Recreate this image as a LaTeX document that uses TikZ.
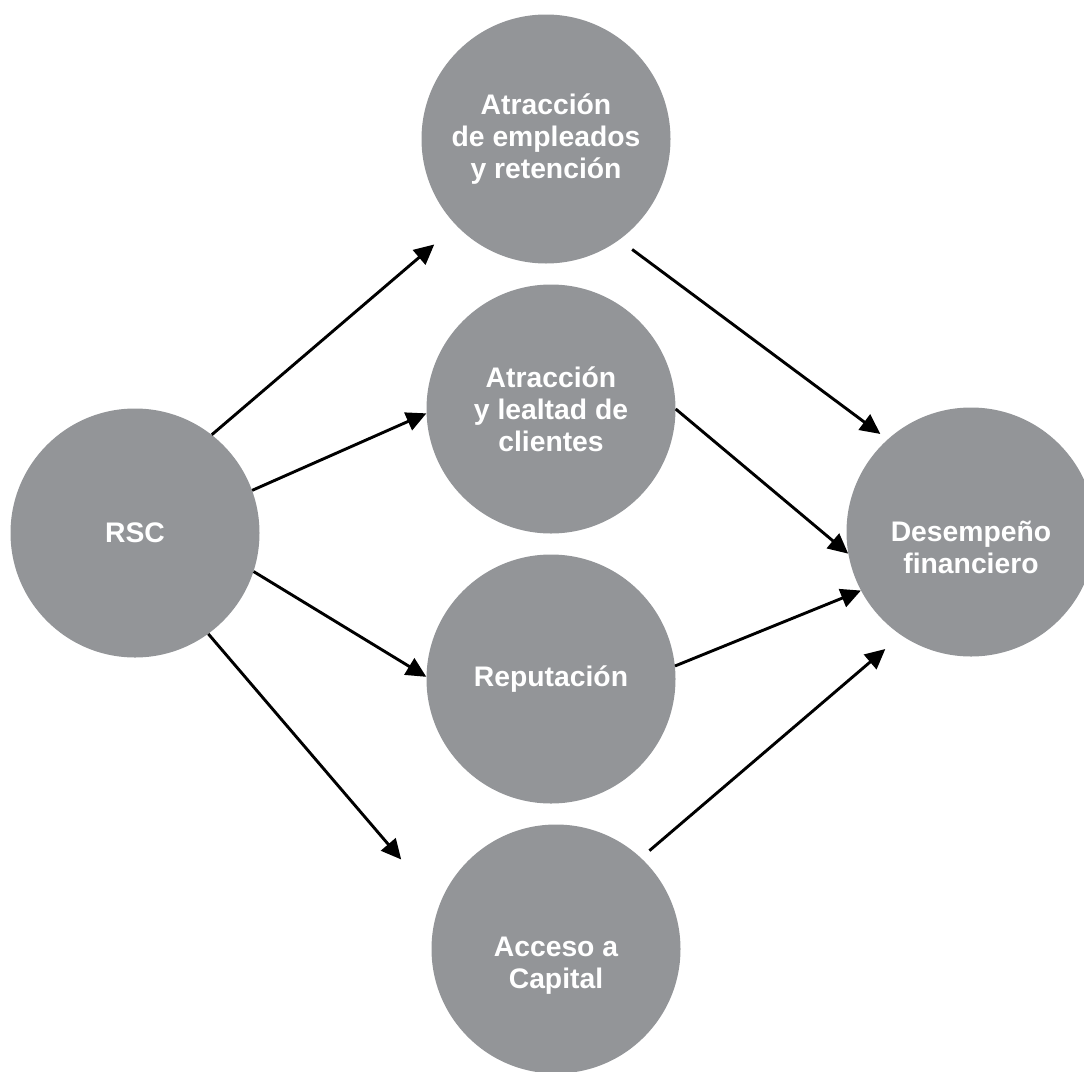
\documentclass[tikz,border=0pt]{standalone}
\usepackage{fontspec}
\setmainfont{Liberation Sans}
\usepackage{xcolor}
\usetikzlibrary{arrows.meta}
\definecolor{bubblegray}{HTML}{939598}

\begin{document}
\begin{tikzpicture}[x=1pt,y=-1pt,
	bubble/.style={circle,fill=bubblegray,minimum size=249pt,inner sep=0pt},
	bubbletext/.style={align=center,text=white,font=\bfseries\fontsize{28.3}{32}\selectfont},
	link/.style={line width=2.9pt,-{Triangle[length=20pt,width=19pt]}}]
	\useasboundingbox (0,0) rectangle (1084,1071);

	% circles
	\node[bubble,bubbletext] (rsc) at (135,533) {RSC};
	\node[bubble,bubbletext] (emp) at (546,139) {Atracción\\de empleados\\y retención};
	\node[bubble,bubbletext] (cli) at (551,409) {Atracción\\y lealtad de\\clientes};
	\node[bubble,bubbletext] (rep) at (551,679) {Reputación};
	\node[bubble,label={[bubbletext,yshift=-17pt]center:Acceso a\\Capital}] (cap) at (556,949) {};
	\node[bubble,label={[bubbletext,yshift=-15pt]center:Desempeño\\financiero}] (des) at (971,532) {};

	% arrows
	\draw[link,shorten >=29pt] (rsc.52) -- (emp.224);
	\draw[link] (rsc.20) -- (cli.182);
	\draw[link] (rsc.342) -- (rep.179);
	\draw[link,shorten >=59pt] (rsc.306) -- (cap.159);

	\draw[link,shorten <=16pt,shorten >=9pt] (emp.306) -- (des.132.5);
	\draw[link] (cli.0) -- (des.190);
	\draw[link] (rep.6) -- (des.208);
	\draw[link,shorten <=11pt,shorten >=21pt] (cap.47) -- (des.236);
\end{tikzpicture}
\end{document}
